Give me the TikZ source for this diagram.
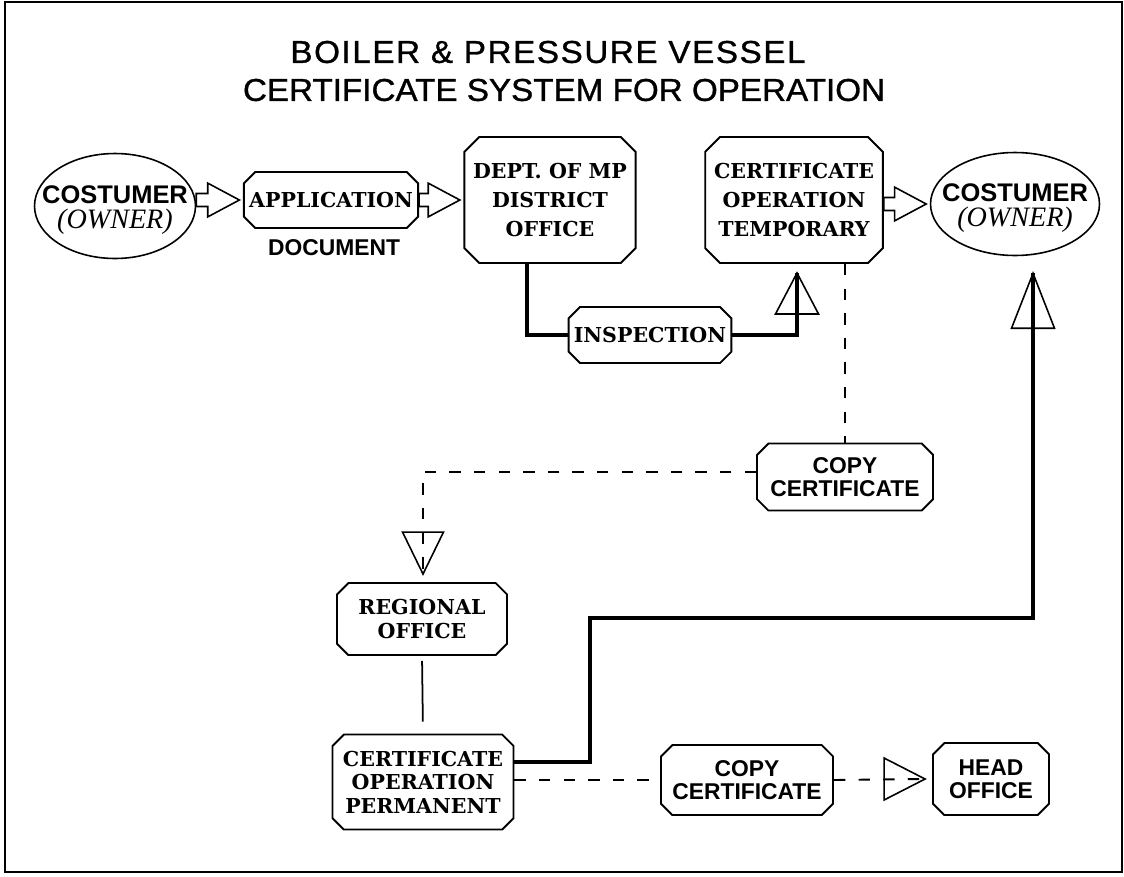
\documentclass[tikz,border=0pt]{standalone}
\usepackage{fontspec}
\setmainfont{DejaVu Serif}
\newfontfamily\labelfont{Liberation Sans}
\newfontfamily\titlefont[FakeStretch=1.05,FakeBold=1]{Liberation Sans}
\newfontfamily\titlewidefont[FakeStretch=1.05,FakeBold=1,LetterSpace=5]{Liberation Sans}
\newfontfamily\ownerfont{Liberation Serif}
\usetikzlibrary{calc,shapes.misc,shapes.geometric}
\newcommand{\hollowarrow}[2]{%
  \draw[fatarrow] let \p1=(#1.east), \p2=(#2.west) in
    (\x1,\y2+3.7pt) -- (\x2-20pt,\y2+3.7pt) -- (\x2-20pt,\y2+9.6pt) -- (\x2-2pt,\y2)
    -- (\x2-20pt,\y2-9.6pt) -- (\x2-20pt,\y2-3.7pt) -- (\x1,\y2-3.7pt) -- cycle;}
\newcommand{\ownertext}{\rule{0pt}{15pt}\makebox[0pt]{COSTUMER}\\
  \ownerfont\mdseries\itshape\fontsize{16}{14.2}\selectfont\makebox[0pt]{(OWNER)}}

\begin{document}
\begin{tikzpicture}[x=.02cm,y=-.02cm,
  box/.style={chamfered rectangle,chamfered rectangle xsep=3pt,draw,line width=1.1pt,
    inner sep=0pt,align=center,font=\bfseries\fontsize{11.7}{13.4}\selectfont},
  tallbox/.style={box,chamfered rectangle xsep=5pt,font=\bfseries\fontsize{11.7}{16.5}\selectfont},
  sansbox/.style={box,font=\labelfont\bfseries\fontsize{13}{13.2}\selectfont},
  ownerell/.style={ellipse,draw,line width=.9pt,inner sep=0pt,align=center,
    font=\labelfont\bfseries\fontsize{14.5}{14.2}\selectfont},
  fatarrow/.style={line width=.9pt,line join=miter},
  thickline/.style={line width=2.3pt},
  dashline/.style={line width=1.1pt,dash pattern=on 6.5pt off 7.5pt},
  tri/.style={line width=.9pt,line join=miter}]
\path[use as bounding box] (0,0) rectangle (1124,876);
\draw[line width=1.2pt] (5,2) rectangle (1122,872);

\node[font=\titlewidefont\fontsize{18}{18}\selectfont] (title1) at (548,52) {BOILER \& PRESSURE VESSEL};
\node[font=\titlefont\fontsize{18}{18}\selectfont] (title2) at (564,90) {CERTIFICATE SYSTEM FOR OPERATION};

\node[ownerell,minimum width=3.22cm,minimum height=2.1cm] (cust1) at (115,206) {\ownertext};
\node[box,minimum width=3.46cm,minimum height=1.12cm] (app) at (331,200) {APPLICATION};
\node[font=\labelfont\bfseries\fontsize{13}{13}\selectfont] (doclabel) at (334,248) {DOCUMENT};
\node[tallbox,minimum width=3.42cm,minimum height=2.52cm] (dept) at (550,200)
  {DEPT. OF MP\\DISTRICT\\OFFICE};
\node[tallbox,minimum width=3.48cm,minimum height=2.52cm] (certT) at (794,200)
  {CERTIFICATE\\OPERATION\\TEMPORARY};
\node[ownerell,minimum width=3.38cm,minimum height=2.06cm] (cust2) at (1015,204) {\ownertext};
\node[box,minimum width=3.22cm,minimum height=1.12cm] (insp) at (650,335) {INSPECTION};
\node[sansbox,minimum width=3.52cm,minimum height=1.34cm] (copyA) at (845,477) {COPY\\CERTIFICATE};
\node[box,minimum width=3.40cm,minimum height=1.44cm] (regional) at (422,619) {REGIONAL\\OFFICE};
\node[box,minimum width=3.62cm,minimum height=1.90cm] (perm) at (423,782)
  {CERTIFICATE\\OPERATION\\PERMANENT};
\node[sansbox,minimum width=3.44cm,minimum height=1.40cm] (copyB) at (747,780) {COPY\\CERTIFICATE};
\node[sansbox,minimum width=2.32cm,minimum height=1.44cm] (head) at (991,779) {HEAD\\OFFICE};

\hollowarrow{cust1}{app}
\hollowarrow{app}{dept}
\hollowarrow{certT}{cust2}

\coordinate (tempTip) at ($(certT.south)+(3,9)$);
\draw[thickline] ($(dept.south)+(-23,0)$) |- (insp.west);
\draw[thickline] (insp.east) -| (tempTip);
\draw[tri] (tempTip) -- ++(-21.5,41) -- ++(43,0) -- cycle;

\draw[dashline] (copyA.north |- certT.south) -- (copyA.north);
\coordinate (regTip) at ($(regional.north)+(1,-8)$);
\draw[dashline] ($(copyA.west)+(0,-5)$) -| (regTip);
\draw[tri] (regTip) -- ++(-20.5,-42) -- ++(41,0) -- cycle;

\draw[line width=1pt,shorten <=.1cm,shorten >=.24cm] (regional.south) -- (perm.north);

\coordinate (ownerTip) at ($(cust2.south)+(18,17)$);
\draw[thickline] ($(perm.east)+(0,-20)$) -| (590,618) -| (ownerTip);
\draw[tri] (ownerTip) -- ++(-21.5,55) -- ++(43,0) -- cycle;

\coordinate (headTip) at ($(head.west)+(-7,0)$);
\draw[dashline] (perm.east |- copyB.west) -- (copyB.west);
\draw[dashline] (copyB.east) -- (headTip);
\draw[tri] (headTip) -- ++(-41,-21) -- ++(0,42) -- cycle;
\end{tikzpicture}
\end{document}
